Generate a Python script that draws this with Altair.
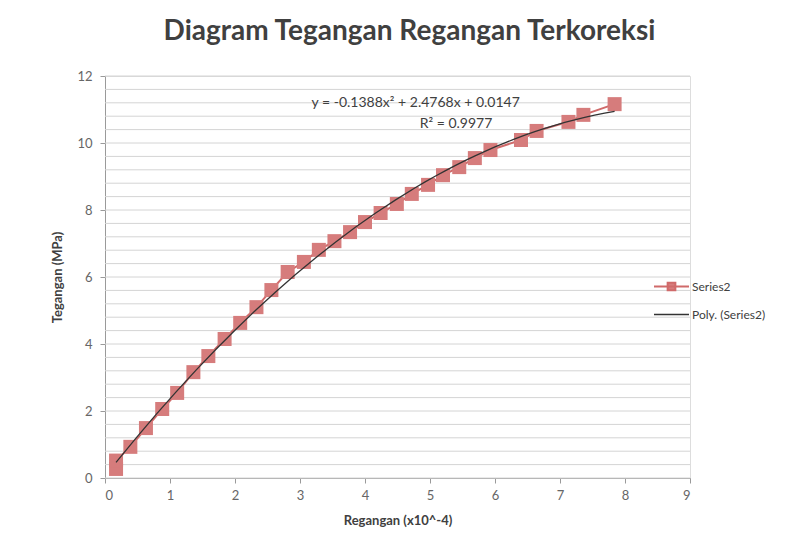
import altair as alt
import pandas as pd

strain = [0.17, 0.17, 0.39, 0.63, 0.88, 1.11, 1.36, 1.59, 1.84, 2.08, 2.33, 2.56, 2.81, 3.06, 3.29,
          3.53, 3.77, 4.00, 4.24, 4.49, 4.72, 4.97, 5.20, 5.45, 5.69, 5.93, 6.40, 6.64, 7.13, 7.36, 7.84]
stress = [0.27, 0.52, 0.93, 1.49, 2.06, 2.54, 3.16, 3.64, 4.15, 4.63, 5.10, 5.61, 6.15, 6.45, 6.81,
          7.07, 7.34, 7.64, 7.91, 8.18, 8.48, 8.75, 9.04, 9.28, 9.55, 9.79, 10.09, 10.36, 10.63, 10.84, 11.16]

x_ticks = [0, 1, 2, 3, 4, 5, 6, 7, 8, 9]
y_ticks = [0, 2, 4, 6, 8, 10, 12]
grid_vals = [round(i * 0.4, 1) for i in range(31)]

eq_text = ["y = -0.1388x² + 2.4768x + 0.0147", "R² = 0.9977"]
eq_x = [4.78, 5.40]
eq_y = [11.19, 10.57]

FONT = "Lato"
df = pd.DataFrame({"x": strain, "y": stress, "idx": list(range(len(strain))), "s": ["Series2"] * len(strain)})
grid_df = pd.DataFrame({"g": grid_vals})
eq_df = pd.DataFrame({"t": eq_text, "x": eq_x, "y": eq_y})

xscale = alt.Scale(domain=[0, 9], nice=False, zero=False)
yscale = alt.Scale(domain=[0, 12], nice=False, zero=False)

xaxis = alt.Axis(values=x_ticks, format="d", grid=False, title="Regangan (x10^-4)", labelFont=FONT,
                 labelFontSize=13, labelColor="#666666", titleFont=FONT, titleFontSize=13,
                 titleColor="#404040", titleFontWeight="bold", domainColor="#9a9a9a",
                 tickColor="#9a9a9a", tickSize=5, labelPadding=6, titlePadding=12)
yaxis = alt.Axis(values=y_ticks, format="d", grid=False, title="Tegangan (MPa)", labelFont=FONT,
                 labelFontSize=13, labelColor="#666666", titleFont=FONT, titleFontSize=13,
                 titleColor="#404040", titleFontWeight="bold", domainColor="#9a9a9a",
                 tickColor="#9a9a9a", tickSize=5, labelPadding=8, titlePadding=12)

grid = alt.Chart(grid_df).mark_rule(color="#d4d4d4", strokeWidth=1).encode(
    y=alt.Y("g:Q", scale=yscale, axis=yaxis)
)

color_scale = alt.Scale(domain=["Series2"], range=["#D06A6A"])
series_legend = alt.Legend(title=None, orient="none", legendX=548, legendY=192,
                           symbolType="M-1,0H1M-0.22,-0.22H0.22V0.22H-0.22Z", symbolSize=1225,
                           symbolFillColor="#D67C7C", symbolStrokeWidth=2,
                           labelFont=FONT, labelFontSize=12, labelColor="#404040", labelOffset=2)

line = alt.Chart(df).mark_line(strokeWidth=2).encode(
    x=alt.X("x:Q", scale=xscale, axis=xaxis),
    y=alt.Y("y:Q", scale=yscale),
    order="idx:Q",
    color=alt.Color("s:N", scale=color_scale, legend=series_legend),
)
pts = alt.Chart(df).mark_square(size=196, opacity=1, filled=True, color="#D67C7C").encode(
    x=alt.X("x:Q", scale=xscale),
    y=alt.Y("y:Q", scale=yscale),
)

poly_legend = alt.Legend(title=None, orient="none", legendX=548, legendY=220, symbolType="stroke",
                         symbolSize=1225, symbolStrokeWidth=1.5,
                         labelFont=FONT, labelFontSize=12, labelColor="#404040", labelOffset=2)
trend = alt.Chart(df).transform_regression(
    "x", "y", method="poly", order=2, extent=[min(strain), max(strain)]
).transform_calculate(name="'Poly. (Series2)'").mark_line(strokeWidth=1.3).encode(
    x=alt.X("x:Q", scale=xscale),
    y=alt.Y("y:Q", scale=yscale),
    stroke=alt.Stroke("name:N", scale=alt.Scale(domain=["Poly. (Series2)"], range=["#333333"]),
                      legend=poly_legend),
)

eq = alt.Chart(eq_df).mark_text(font=FONT, fontSize=14, color="#404040").encode(
    x=alt.X("x:Q", scale=xscale), y=alt.Y("y:Q", scale=yscale), text="t:N"
)

chart = alt.layer(grid, line, pts, trend, eq).properties(
    width=585, height=402,
    autosize=alt.AutoSizeParams(type="none"),
    padding={"left": 97, "top": 68, "right": 89, "bottom": 56},
    title=alt.TitleParams(text="Diagram Tegangan Regangan Terkoreksi", font=FONT, fontSize=28,
                          fontWeight="bold", color="#404040", anchor="middle", offset=24, dx=12),
).configure_view(stroke=None).configure(background="white")

chart.save("out.html", embed_options={"renderer": "svg", "actions": False})
